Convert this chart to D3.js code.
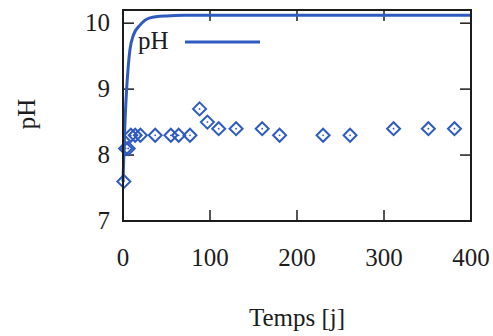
<!DOCTYPE html>
<html><head><meta charset="utf-8">
<script src="https://cdn.jsdelivr.net/npm/d3@7"></script>
<style>html,body{margin:0;padding:0;background:#fff;}svg{display:block;}</style>
</head><body>
<script>
// Data
const obsTime = [1, 3, 6, 9, 14, 20, 37, 55, 64, 77, 88, 97, 110, 130, 160, 180, 230, 261, 311, 351, 381];
const obsPH   = [7.6, 8.1, 8.1, 8.3, 8.3, 8.3, 8.3, 8.3, 8.3, 8.3, 8.7, 8.5, 8.4, 8.4, 8.4, 8.3, 8.3, 8.3, 8.4, 8.4, 8.4];
const curveTime = [0, 1, 2, 3.5, 6, 8, 12, 19.5, 31, 50, 70, 100, 400];
const curvePH   = [7.6, 8.0, 8.4, 8.84, 9.34, 9.6, 9.82, 9.97, 10.08, 10.11, 10.12, 10.12, 10.12];
const xTicks = [0, 100, 200, 300, 400];
const yTicks = [7, 8, 9, 10];
const legendLabel = "pH";
const xTitle = "Temps [j]";
const yTitle = "pH";

const W = 493, H = 336;
const blue = "#2f5bc0", ink = "#1c1c1c";
const font = "'Liberation Serif', 'DejaVu Serif', serif";
const fs = 25;

const svg = d3.select("body").append("svg").attr("width", W).attr("height", H)
  .style("font-family", font);

const x = d3.scaleLinear().domain([0, 400]).range([123, 471]);
const y = d3.scaleLinear().domain([7, 10.2]).range([221, 10]);
const [x0, x1] = x.range(), [y0, y1] = y.range();
const tl = 11;

// ticks (mirrored, inward)
const tg = svg.append("g").attr("stroke", ink).attr("stroke-width", 1.5);
tg.selectAll(".xb").data(xTicks).join("line").attr("x1", d => x(d)).attr("x2", d => x(d)).attr("y1", y0).attr("y2", y0 - tl);
tg.selectAll(".xt").data(xTicks).join("line").attr("x1", d => x(d)).attr("x2", d => x(d)).attr("y1", y1).attr("y2", y1 + tl);
tg.selectAll(".yl").data(yTicks).join("line").attr("y1", d => y(d)).attr("y2", d => y(d)).attr("x1", x0).attr("x2", x0 + tl);
tg.selectAll(".yr").data(yTicks).join("line").attr("y1", d => y(d)).attr("y2", d => y(d)).attr("x1", x1).attr("x2", x1 - tl);

// tick labels
svg.append("g").selectAll("text").data(xTicks).join("text")
  .attr("x", d => x(d)).attr("y", y0 + 45).attr("text-anchor", "middle")
  .attr("font-size", fs).attr("fill", ink).text(d => d3.format("d")(d));
svg.append("g").selectAll("text").data(yTicks).join("text")
  .attr("x", 110).attr("y", d => y(d)).attr("dy", "0.3em").attr("text-anchor", "end")
  .attr("font-size", fs).attr("fill", ink).text(d => d3.format("d")(d));

// curve
svg.append("path").datum(curveTime.map((t, i) => [t, curvePH[i]]))
  .attr("fill", "none").attr("stroke", blue).attr("stroke-width", 3)
  .attr("d", d3.line().x(d => x(d[0])).y(d => y(d[1])).curve(d3.curveMonotoneX));

// points (diamonds with center dot)
const pts = svg.append("g").selectAll("g").data(obsTime.map((t, i) => [t, obsPH[i]])).join("g")
  .attr("transform", d => `translate(${x(d[0])},${y(d[1])})`);
const r = 6.5;
pts.append("path").attr("d", `M0,${-r}L${r},0L0,${r}L${-r},0Z`)
  .attr("fill", "none").attr("stroke", blue).attr("stroke-width", 2);
pts.append("circle").attr("r", 0.9).attr("fill", blue);

// frame
svg.append("rect").attr("x", x0).attr("y", y1).attr("width", x1 - x0).attr("height", y0 - y1)
  .attr("fill", "none").attr("stroke", ink).attr("stroke-width", 2);

// legend
svg.append("text").attr("x", 138).attr("y", 49).attr("font-size", fs).attr("fill", ink).text(legendLabel);
svg.append("line").attr("x1", 185).attr("x2", 260).attr("y1", 42).attr("y2", 42)
  .attr("stroke", blue).attr("stroke-width", 3);

// axis titles
svg.append("text").attr("x", 297).attr("y", 326).attr("text-anchor", "middle")
  .attr("font-size", fs).attr("fill", ink).text(xTitle);
svg.append("text").attr("transform", "translate(35,114) rotate(-90)").attr("text-anchor", "middle")
  .attr("font-size", fs).attr("fill", ink).text(yTitle);
</script>
</body></html>
